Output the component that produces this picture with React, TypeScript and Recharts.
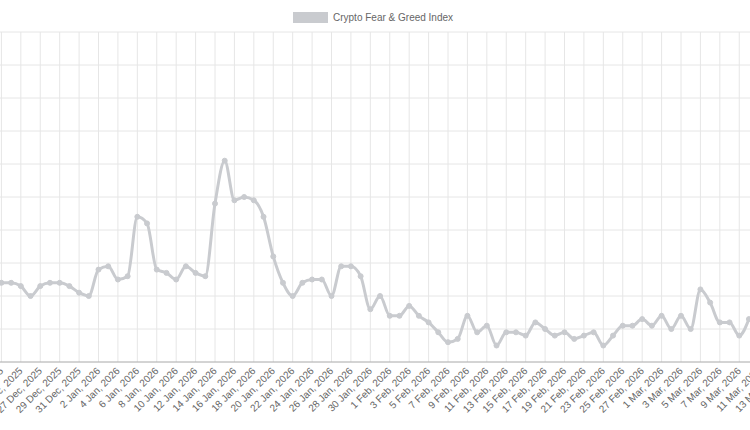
import React from 'react';
import { CartesianGrid, Line, LineChart, XAxis, YAxis } from 'recharts';

// day numbers shown on the category axis (Dec 2025 to Mar 2026)
const decDays = [21, 22, 23, 24, 25, 26, 27, 28, 29, 30, 31];
const janDays = [1, 2, 3, 4, 5, 6, 7, 8, 9, 10, 11, 12, 13, 14, 15, 16, 17, 18, 19, 20, 21, 22, 23, 24, 25, 26, 27, 28, 29, 30, 31];
const febDays = [1, 2, 3, 4, 5, 6, 7, 8, 9, 10, 11, 12, 13, 14, 15, 16, 17, 18, 19, 20, 21, 22, 23, 24, 25, 26, 27, 28];
const marDays = [1, 2, 3, 4, 5, 6, 7, 8, 9, 10, 11, 12, 13, 14, 15];

// index values per day (null = outside the visible crop)
const decValues = [null, null, 24, 24, 23, 20, 23, 24, 24, 23, 21];
const janValues = [20, 28, 29, 25, 26, 44, 42, 28, 27, 25, 29, 27, 26, 48, 61, 49, 50, 49, 44, 32, 24, 20, 24, 25, 25, 20, 29, 29, 26, 16, 20];
const febValues = [14, 14, 17, 14, 12, 9, 6, 7, 14, 9, 11, 5, 9, 9, 8, 12, 10, 8, 9, 7, 8, 9, 5, 8, 11, 11, 13, 11];
const marValues = [14, 10, 14, 10, 22, 18, 12, 12, 8, 13, null, null, null, null, null];

const yTicks = [0, 10, 20, 30, 40, 50, 60, 70, 80, 90, 100];

const labels = [
  ...decDays.map((d) => `${d} Dec, 2025`),
  ...janDays.map((d) => `${d} Jan, 2026`),
  ...febDays.map((d) => `${d} Feb, 2026`),
  ...marDays.map((d) => `${d} Mar, 2026`),
];
const values = [...decValues, ...janValues, ...febValues, ...marValues];
const data = labels.map((date, i) => ({ date, value: values[i] }));
const xTicks = labels.filter((_, i) => i % 2 === 0);

const FONT = '"Liberation Sans", Arial, Helvetica, sans-serif';
const GREY = '#c9cbcf';

const DateTick = ({ x, y, payload }: any) => (
  <g transform={`translate(${x},${y + 7}) rotate(-45)`}>
    <text x={0} y={0} dy="0.35em" textAnchor="end" fontSize={10} fill="#666" fontFamily={FONT}>
      {payload.value}
    </text>
  </g>
);

export default function App() {
  return (
    <div
      style={{
        position: 'absolute',
        left: 0,
        top: 0,
        width: 750,
        height: 430,
        overflow: 'hidden',
        background: '#fff',
        fontFamily: FONT,
      }}
    >
      <div style={{ position: 'absolute', left: 293, top: 12, width: 35, height: 11, background: GREY }} />
      <div style={{ position: 'absolute', left: 333, top: 11, fontSize: 10, lineHeight: '13px', color: '#666' }}>
        Crypto Fear &amp; Greed Index
      </div>
      <div style={{ position: 'absolute', left: -18.25, top: 0 }}>
        <LineChart width={815.5} height={430} data={data} margin={{ top: 32, right: 0, bottom: 0, left: 0 }}>
          <CartesianGrid stroke="#e6e6e6" />
          <XAxis
            dataKey="date"
            ticks={xTicks}
            interval={0}
            height={68}
            tickLine={false}
            tickSize={0}
            tickMargin={0}
            axisLine={{ stroke: 'rgba(0,0,0,0.25)' }}
            tick={<DateTick />}
          />
          <YAxis hide domain={[0, 100]} ticks={yTicks} />
          <Line
            dataKey="value"
            type="monotone"
            stroke={GREY}
            strokeWidth={3}
            dot={{ r: 2.5, fill: GREY, stroke: GREY, strokeWidth: 1 }}
            isAnimationActive={false}
          />
        </LineChart>
      </div>
    </div>
  );
}
